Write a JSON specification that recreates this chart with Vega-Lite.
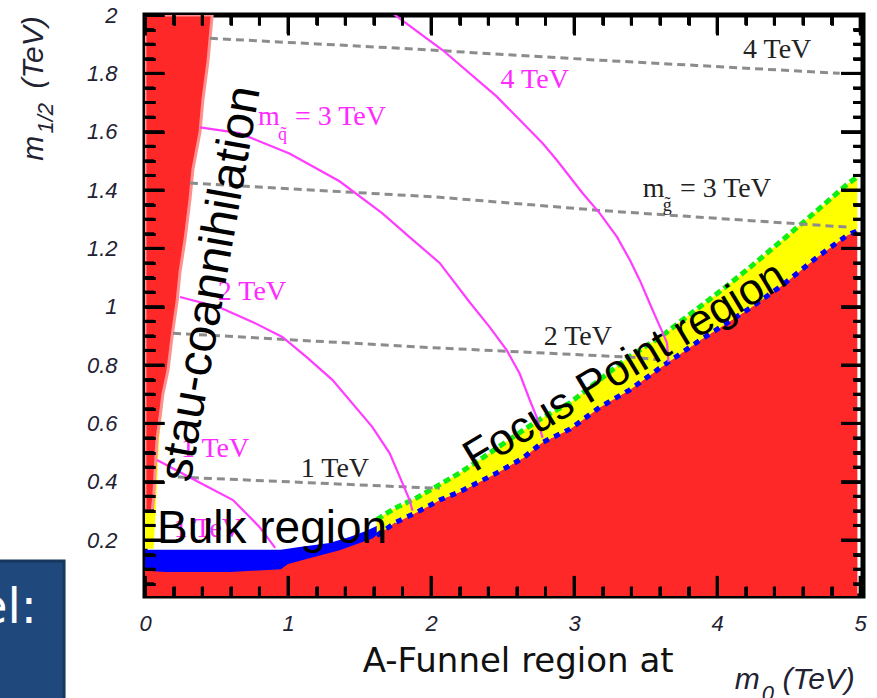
{
"$schema": "https://vega.github.io/schema/vega-lite/v6.json",
"width": 718, "height": 581,
"autosize": {"type": "none"},
"padding": {"left": 145, "top": 15, "right": 14, "bottom": 102},
"background": "white",
"config": {"view": {"stroke": "black", "strokeWidth": 5}},
"resolve": {"axis": {"x": "independent", "y": "independent"}},
"datasets": {
"bulk": [{"x":0,"y":0.167},{"x":0.95,"y":0.167},{"x":1.08,"y":0.176},{"x":1.29,"y":0.19},{"x":1.43,"y":0.21},{"x":1.54,"y":0.23},{"x":1.65,"y":0.255},{"x":1.75,"y":0.28}],
"redlow": [{"x":0,"y":0.095},{"x":0.15,"y":0.09},{"x":0.6,"y":0.09},{"x":0.95,"y":0.1},{"x":1.0,"y":0.118},{"x":1.13,"y":0.135},{"x":1.36,"y":0.165},{"x":1.59,"y":0.205},{"x":1.68,"y":0.24},{"x":1.78,"y":0.265},{"x":1.92,"y":0.3},{"x":2.06,"y":0.337},{"x":2.2,"y":0.365},{"x":2.34,"y":0.4},{"x":2.46,"y":0.43},{"x":2.64,"y":0.48},{"x":2.78,"y":0.535},{"x":2.97,"y":0.58},{"x":3.18,"y":0.655},{"x":3.39,"y":0.715},{"x":3.6,"y":0.79},{"x":3.88,"y":0.885},{"x":4.04,"y":0.935},{"x":4.23,"y":0.995},{"x":4.46,"y":1.075},{"x":4.7,"y":1.17},{"x":4.91,"y":1.245},{"x":4.98,"y":1.26},{"x":4.981,"y":0}],
"band": [{"x":1.62,"lo":0.215,"hi":0.27},{"x":1.75,"lo":0.26,"hi":0.31},{"x":1.9,"lo":0.295,"hi":0.345},{"x":2.06,"lo":0.337,"hi":0.39},{"x":2.2,"lo":0.365,"hi":0.43},{"x":2.34,"lo":0.4,"hi":0.475},{"x":2.46,"lo":0.43,"hi":0.515},{"x":2.64,"lo":0.48,"hi":0.575},{"x":2.78,"lo":0.535,"hi":0.62},{"x":2.97,"lo":0.58,"hi":0.67},{"x":3.18,"lo":0.655,"hi":0.75},{"x":3.39,"lo":0.715,"hi":0.83},{"x":3.6,"lo":0.79,"hi":0.895},{"x":3.88,"lo":0.885,"hi":1.0},{"x":4.04,"lo":0.935,"hi":1.06},{"x":4.23,"lo":0.995,"hi":1.135},{"x":4.46,"lo":1.075,"hi":1.23},{"x":4.7,"lo":1.17,"hi":1.33},{"x":4.91,"lo":1.245,"hi":1.42},{"x":4.98,"lo":1.26,"hi":1.445}],
"leftyellow": [{"y":0.17,"x":0.06},{"y":0.3,"x":0.075},{"y":0.45,"x":0.09},{"y":0.55,"x":0.1},{"y":0.62,"x":0.115},{"y":0.7,"x":0.13}],
"leftred": [{"y":0.3,"x":0.05},{"y":0.35,"x":0.062},{"y":0.45,"x":0.072},{"y":0.55,"x":0.085},{"y":0.62,"x":0.105},{"y":0.7,"x":0.125},{"y":0.78,"x":0.16},{"y":0.9,"x":0.19},{"y":1.02,"x":0.225},{"y":1.12,"x":0.245},{"y":1.23,"x":0.28},{"y":1.37,"x":0.315},{"y":1.47,"x":0.335},{"y":1.6,"x":0.385},{"y":1.71,"x":0.405},{"y":1.84,"x":0.44},{"y":2.0,"x":0.47}],
"sq": [
{"c":"4","x":1.72,"y":2.01},{"c":"4","x":2.08,"y":1.88},{"c":"4","x":2.46,"y":1.72},{"c":"4","x":2.78,"y":1.56},{"c":"4","x":2.88,"y":1.502},{"c":"4","x":3.06,"y":1.389},{"c":"4","x":3.18,"y":1.32},{"c":"4","x":3.3,"y":1.239},{"c":"4","x":3.39,"y":1.16},{"c":"4","x":3.46,"y":1.09},{"c":"4","x":3.53,"y":1.01},{"c":"4","x":3.58,"y":0.954},{"c":"4","x":3.62,"y":0.91},{"c":"4","x":3.65,"y":0.875},{"c":"4","x":3.66,"y":0.81},
{"c":"3","x":0.385,"y":1.615},{"c":"3","x":0.66,"y":1.595},{"c":"3","x":1.01,"y":1.525},{"c":"3","x":1.36,"y":1.43},{"c":"3","x":1.66,"y":1.32},{"c":"3","x":1.87,"y":1.23},{"c":"3","x":2.06,"y":1.15},{"c":"3","x":2.27,"y":1.015},{"c":"3","x":2.41,"y":0.93},{"c":"3","x":2.53,"y":0.85},{"c":"3","x":2.62,"y":0.77},{"c":"3","x":2.69,"y":0.68},{"c":"3","x":2.74,"y":0.62},{"c":"3","x":2.78,"y":0.55},
{"c":"2","x":0.245,"y":1.033},{"c":"2","x":0.52,"y":0.998},{"c":"2","x":0.755,"y":0.947},{"c":"2","x":0.96,"y":0.896},{"c":"2","x":1.13,"y":0.827},{"c":"2","x":1.31,"y":0.749},{"c":"2","x":1.59,"y":0.587},{"c":"2","x":1.71,"y":0.498},{"c":"2","x":1.8,"y":0.395},{"c":"2","x":1.85,"y":0.337},{"c":"2","x":1.87,"y":0.3},
{"c":"1","x":0.084,"y":0.474},{"c":"1","x":0.384,"y":0.396},{"c":"1","x":0.615,"y":0.337},{"c":"1","x":0.8,"y":0.245},{"c":"1","x":0.91,"y":0.173}],
"gl": [
{"c":"4","x":0.454,"y":1.92},{"c":"4","x":1.782,"y":1.886},{"c":"4","x":3.18,"y":1.845},{"c":"4","x":3.857,"y":1.827},{"c":"4","x":4.857,"y":1.8},
{"c":"3","x":0.314,"y":1.424},{"c":"3","x":2.061,"y":1.375},{"c":"3","x":3.18,"y":1.33},{"c":"3","x":4.93,"y":1.272},
{"c":"2","x":0.196,"y":0.909},{"c":"2","x":2.061,"y":0.858},{"c":"2","x":3.389,"y":0.827},{"c":"2","x":3.6,"y":0.818},
{"c":"1","x":0.23,"y":0.416},{"c":"1","x":2.01,"y":0.378},{"c":"1","x":2.06,"y":0.377}],
"xmaj": [{"v":0},{"v":1},{"v":2},{"v":3},{"v":4},{"v":5}],
"xmin": [{"v":0.2},{"v":0.4},{"v":0.6},{"v":0.8},{"v":1.2},{"v":1.4},{"v":1.6},{"v":1.8},{"v":2.2},{"v":2.4},{"v":2.6},{"v":2.8},{"v":3.2},{"v":3.4},{"v":3.6},{"v":3.8},{"v":4.2},{"v":4.4},{"v":4.6},{"v":4.8}],
"ymaj": [{"v":0.2},{"v":0.4},{"v":0.6},{"v":0.8},{"v":1.0},{"v":1.2},{"v":1.4},{"v":1.6},{"v":1.8},{"v":2.0}],
"ymin": [{"v":0.05},{"v":0.1},{"v":0.15},{"v":0.25},{"v":0.3},{"v":0.35},{"v":0.45},{"v":0.5},{"v":0.55},{"v":0.65},{"v":0.7},{"v":0.75},{"v":0.85},{"v":0.9},{"v":0.95},{"v":1.05},{"v":1.1},{"v":1.15},{"v":1.25},{"v":1.3},{"v":1.35},{"v":1.45},{"v":1.5},{"v":1.55},{"v":1.65},{"v":1.7},{"v":1.75},{"v":1.85},{"v":1.9},{"v":1.95}],
"sqlabc": [{"x":2.725,"y":1.749,"t":"4 TeV"},{"x":0.748,"y":1.022,"t":"2 TeV"},{"x":0.49,"y":0.485,"t":"1 TeV"},{"x":0.44,"y":0.21,"t":"1 TeV"}],
"sqlabl": [{"x":0.79,"y":1.622,"t":"m"},{"x":1.048,"y":1.622,"t":"= 3 TeV"}],
"sqsub": [{"x":0.93,"y":1.571,"t":"q̃"}],
"gllabc": [{"x":4.42,"y":1.851,"t":"4 TeV"},{"x":3.026,"y":0.868,"t":"2 TeV"},{"x":1.328,"y":0.416,"t":"1 TeV"}],
"gllabl": [{"x":3.48,"y":1.375,"t":"m"},{"x":3.74,"y":1.375,"t":"= 3 TeV"}],
"glsub": [{"x":3.62,"y":1.328,"t":"g̃"}],
"stau": [{"x":0.56,"y":1.07,"t":"stau-coannihilation"}],
"bulkt": [{"x":0.084,"y":0.19,"t":"Bulk region"}],
"focus": [{"x":3.403,"y":0.755,"t":"Focus Point region"}],
"ytitle": [{"x":-0.713,"y":1.543,"t":"m"},{"x":-0.713,"y":1.872,"t":"(TeV)"}],
"ysub": [{"x":-0.643,"y":1.646,"t":"1/2"}],
"xtitle": [{"x":4.123,"y":-0.31,"t":"m"},{"x":4.458,"y":-0.31,"t":"(TeV)"}],
"xsub": [{"x":4.312,"y":-0.352,"t":"0"}],
"box": [{"x":-1.2,"x2":-0.566,"y":-0.5,"y2":0.128}],
"boxt": [{"x":-0.755,"y":-0.084,"t":"Model:"}],
"funnel": [{"x":1.523,"y":-0.252,"t":"A-Funnel region at"},{"x":1.53,"y":-0.43,"t":"large tan β"}]
},
"layer": [
{"data": {"name": "bulk"}, "mark": {"type": "area", "color": "#0000ff", "clip": true},
 "encoding": {
  "x": {"field": "x", "type": "quantitative", "scale": {"domain": [0, 5.02], "nice": false, "zero": false},
    "axis": {"orient": "bottom", "title": null, "values": [0,1,2,3,4,5], "format": "d", "offset": -20,
      "domain": false, "ticks": true, "tickSize": 20, "tickWidth": 3, "tickColor": "black",
      "grid": true, "gridColor": "black", "gridWidth": 3, "gridOpacity": 1, "gridDash": [20, 542, 19, 5000],
      "labelFont": "Liberation Sans", "labelFontStyle": "italic", "labelFontSize": 22, "labelColor": "#222233",
      "labelPadding": 17, "labelBaseline": "top", "labelFlush": false, "labelOverlap": false, "zindex": 1}},
  "y": {"field": "y", "type": "quantitative", "scale": {"domain": [0.008, 2.0], "nice": false, "zero": false},
    "axis": {"orient": "left", "title": null, "values": [0.2,0.4,0.6,0.8,1,1.2,1.4,1.6,1.8,2], "format": "~g", "offset": -19,
      "domain": false, "ticks": true, "tickSize": 19, "tickWidth": 3, "tickColor": "black",
      "grid": true, "gridColor": "black", "gridWidth": 3, "gridOpacity": 1, "gridDash": [19, 677, 22, 5000],
      "labelFont": "Liberation Sans", "labelFontStyle": "italic", "labelFontSize": 22, "labelColor": "#222233",
      "labelPadding": 28, "labelFlush": false, "labelOverlap": false, "zindex": 1}},
  "y2": {"datum": 0}}},
{"data": {"name": "redlow"}, "mark": {"type": "area", "color": "#ff2828", "clip": true},
 "encoding": {
  "x": {"field": "x", "type": "quantitative", "scale": {"domain": [0, 5.02], "nice": false, "zero": false},
    "axis": {"orient": "top", "title": null, "labels": false, "values": [0,1,2,3,4,5], "offset": -19, "grid": false,
      "domain": false, "ticks": true, "tickSize": 19, "tickWidth": 3, "tickColor": "black", "zindex": 1}},
  "y": {"field": "y", "type": "quantitative", "scale": {"domain": [0.008, 2.0], "nice": false, "zero": false},
    "axis": {"orient": "right", "title": null, "labels": false, "values": [0.2,0.4,0.6,0.8,1,1.2,1.4,1.6,1.8,2], "offset": -22, "grid": false,
      "domain": false, "ticks": true, "tickSize": 22, "tickWidth": 3, "tickColor": "black", "zindex": 1}},
  "y2": {"datum": 0}}},
{"data": {"name": "band"}, "mark": {"type": "area", "color": "#ffff00", "clip": true},
 "encoding": {"x": {"field": "x", "type": "quantitative", "scale": {"domain": [0, 5.02], "nice": false, "zero": false},
    "axis": {"orient": "top", "title": null, "labels": false, "values": [0.2,0.4,0.6,0.8,1.2,1.4,1.6,1.8,2.2,2.4,2.6,2.8,3.2,3.4,3.6,3.8,4.2,4.4,4.6,4.8], "offset": -10,
      "domain": false, "ticks": true, "tickSize": 10, "tickWidth": 3, "tickColor": "black",
      "grid": true, "gridColor": "black", "gridWidth": 3, "gridOpacity": 1, "gridDash": [9, 562, 10, 5000], "zindex": 1}},
  "y": {"field": "hi", "type": "quantitative", "scale": {"domain": [0.008, 2.0], "nice": false, "zero": false},
    "axis": {"orient": "right", "title": null, "labels": false, "values": [0.05,0.1,0.15,0.25,0.3,0.35,0.45,0.5,0.55,0.65,0.7,0.75,0.85,0.9,0.95,1.05,1.1,1.15,1.25,1.3,1.35,1.45,1.5,1.55,1.65,1.7,1.75,1.85,1.9,1.95], "offset": -10,
      "domain": false, "ticks": true, "tickSize": 10, "tickWidth": 3, "tickColor": "black",
      "grid": true, "gridColor": "black", "gridWidth": 3, "gridOpacity": 1, "gridDash": [9, 699, 10, 5000], "zindex": 1}},
  "y2": {"field": "lo"}}},
{"data": {"name": "band"}, "mark": {"type": "line", "color": "#11ee11", "strokeWidth": 5, "strokeDash": [7, 4], "clip": true},
 "encoding": {"x": {"field": "x", "type": "quantitative",
    "axis": {"orient": "bottom", "title": null, "labels": false, "values": [0.2,0.4,0.6,0.8,1.2,1.4,1.6,1.8,2.2,2.4,2.6,2.8,3.2,3.4,3.6,3.8,4.2,4.4,4.6,4.8], "offset": -10, "grid": false,
      "domain": false, "ticks": true, "tickSize": 10, "tickWidth": 3, "tickColor": "black", "zindex": 1}},
  "y": {"field": "hi", "type": "quantitative",
    "axis": {"orient": "left", "title": null, "labels": false, "values": [0.05,0.1,0.15,0.25,0.3,0.35,0.45,0.5,0.55,0.65,0.7,0.75,0.85,0.9,0.95,1.05,1.1,1.15,1.25,1.3,1.35,1.45,1.5,1.55,1.65,1.7,1.75,1.85,1.9,1.95], "offset": -10, "grid": false,
      "domain": false, "ticks": true, "tickSize": 10, "tickWidth": 3, "tickColor": "black", "zindex": 1}}}},
{"data": {"name": "band"}, "mark": {"type": "line", "color": "#0000ff", "strokeWidth": 5, "strokeDash": [6, 6], "clip": true},
 "encoding": {"x": {"field": "x", "type": "quantitative", "axis": null}, "y": {"field": "lo", "type": "quantitative", "axis": null}}},
{"data": {"name": "leftyellow"}, "mark": {"type": "area", "orient": "horizontal", "color": "#ffff00", "clip": true},
 "encoding": {"y": {"field": "y", "type": "quantitative", "axis": null}, "x": {"field": "x", "type": "quantitative", "axis": null}, "x2": {"datum": 0}}},
{"data": {"name": "leftred"}, "mark": {"type": "area", "orient": "horizontal", "color": "#ff2828", "stroke": "#ff9090", "strokeWidth": 3, "clip": true},
 "encoding": {"y": {"field": "y", "type": "quantitative", "axis": null}, "x": {"field": "x", "type": "quantitative", "axis": null}, "x2": {"datum": 0}}},
{"data": {"name": "gl"}, "mark": {"type": "line", "color": "#8c8c8c", "strokeWidth": 3, "strokeDash": [8, 5], "clip": true},
 "encoding": {"x": {"field": "x", "type": "quantitative", "axis": null}, "y": {"field": "y", "type": "quantitative", "axis": null}, "detail": {"field": "c"}}},
{"data": {"name": "sq"}, "mark": {"type": "line", "color": "#ff3cff", "strokeWidth": 2.2, "clip": true},
 "encoding": {"x": {"field": "x", "type": "quantitative", "axis": null}, "y": {"field": "y", "type": "quantitative", "axis": null}, "detail": {"field": "c"}}},
{"data": {"name": "xmaj"}, "mark": {"type": "rule", "color": "black", "strokeWidth": 3},
 "encoding": {"x": {"field": "v", "type": "quantitative", "axis": null}, "y": {"datum": 0.008, "axis": {"labels": false, "ticks": false, "domain": false, "grid": false, "title": null}}, "y2": {"datum": 0.077}}},
{"data": {"name": "xmin"}, "mark": {"type": "rule", "color": "black", "strokeWidth": 3},
 "encoding": {"x": {"field": "v", "type": "quantitative", "axis": null}, "y": {"datum": 0.008, "axis": {"labels": false, "ticks": false, "domain": false, "grid": false, "title": null}}, "y2": {"datum": 0.039}}},
{"data": {"name": "xmaj"}, "mark": {"type": "rule", "color": "black", "strokeWidth": 3},
 "encoding": {"x": {"field": "v", "type": "quantitative", "axis": null}, "y": {"datum": 2.0, "axis": {"labels": false, "ticks": false, "domain": false, "grid": false, "title": null}}, "y2": {"datum": 1.935}}},
{"data": {"name": "xmin"}, "mark": {"type": "rule", "color": "black", "strokeWidth": 3},
 "encoding": {"x": {"field": "v", "type": "quantitative", "axis": null}, "y": {"datum": 2.0, "axis": {"labels": false, "ticks": false, "domain": false, "grid": false, "title": null}}, "y2": {"datum": 1.966}}},
{"data": {"name": "ymaj"}, "mark": {"type": "rule", "color": "black", "strokeWidth": 3},
 "encoding": {"y": {"field": "v", "type": "quantitative", "axis": null}, "x": {"datum": 0, "axis": {"labels": false, "ticks": false, "domain": false, "grid": false, "title": null}}, "x2": {"datum": 0.133}}},
{"data": {"name": "ymin"}, "mark": {"type": "rule", "color": "black", "strokeWidth": 3},
 "encoding": {"y": {"field": "v", "type": "quantitative", "axis": null}, "x": {"datum": 0, "axis": {"labels": false, "ticks": false, "domain": false, "grid": false, "title": null}}, "x2": {"datum": 0.063}}},
{"data": {"name": "ymaj"}, "mark": {"type": "rule", "color": "black", "strokeWidth": 3},
 "encoding": {"y": {"field": "v", "type": "quantitative", "axis": null}, "x": {"datum": 5.02, "axis": {"labels": false, "ticks": false, "domain": false, "grid": false, "title": null}}, "x2": {"datum": 4.866}}},
{"data": {"name": "ymin"}, "mark": {"type": "rule", "color": "black", "strokeWidth": 3},
 "encoding": {"y": {"field": "v", "type": "quantitative", "axis": null}, "x": {"datum": 5.02, "axis": {"labels": false, "ticks": false, "domain": false, "grid": false, "title": null}}, "x2": {"datum": 4.95}}},
{"data": {"name": "sqlabc"}, "mark": {"type": "text", "font": "Liberation Serif", "fontSize": 28, "color": "#ff2aff", "align": "center", "baseline": "alphabetic"},
 "encoding": {"x": {"field": "x", "type": "quantitative", "axis": null}, "y": {"field": "y", "type": "quantitative", "axis": null}, "text": {"field": "t"}}},
{"data": {"name": "sqlabl"}, "mark": {"type": "text", "font": "Liberation Serif", "fontSize": 28, "color": "#ff2aff", "align": "left", "baseline": "alphabetic"},
 "encoding": {"x": {"field": "x", "type": "quantitative", "axis": null}, "y": {"field": "y", "type": "quantitative", "axis": null}, "text": {"field": "t"}}},
{"data": {"name": "sqsub"}, "mark": {"type": "text", "font": "Liberation Serif", "fontSize": 18, "color": "#ff2aff", "align": "left", "baseline": "alphabetic"},
 "encoding": {"x": {"field": "x", "type": "quantitative", "axis": null}, "y": {"field": "y", "type": "quantitative", "axis": null}, "text": {"field": "t"}}},
{"data": {"name": "gllabc"}, "mark": {"type": "text", "font": "Liberation Serif", "fontSize": 28, "color": "#222222", "align": "center", "baseline": "alphabetic"},
 "encoding": {"x": {"field": "x", "type": "quantitative", "axis": null}, "y": {"field": "y", "type": "quantitative", "axis": null}, "text": {"field": "t"}}},
{"data": {"name": "gllabl"}, "mark": {"type": "text", "font": "Liberation Serif", "fontSize": 28, "color": "#222222", "align": "left", "baseline": "alphabetic"},
 "encoding": {"x": {"field": "x", "type": "quantitative", "axis": null}, "y": {"field": "y", "type": "quantitative", "axis": null}, "text": {"field": "t"}}},
{"data": {"name": "glsub"}, "mark": {"type": "text", "font": "Liberation Serif", "fontSize": 18, "color": "#222222", "align": "left", "baseline": "alphabetic"},
 "encoding": {"x": {"field": "x", "type": "quantitative", "axis": null}, "y": {"field": "y", "type": "quantitative", "axis": null}, "text": {"field": "t"}}},
{"data": {"name": "stau"}, "mark": {"type": "text", "font": "Liberation Sans", "fontSize": 48, "color": "black", "align": "center", "baseline": "alphabetic", "angle": 280},
 "encoding": {"x": {"field": "x", "type": "quantitative", "axis": null}, "y": {"field": "y", "type": "quantitative", "axis": null}, "text": {"field": "t"}}},
{"data": {"name": "bulkt"}, "mark": {"type": "text", "font": "Liberation Sans", "fontSize": 46, "color": "black", "align": "left", "baseline": "alphabetic"},
 "encoding": {"x": {"field": "x", "type": "quantitative", "axis": null}, "y": {"field": "y", "type": "quantitative", "axis": null}, "text": {"field": "t"}}},
{"data": {"name": "focus"}, "mark": {"type": "text", "font": "Liberation Sans", "fontSize": 44, "color": "black", "align": "center", "baseline": "alphabetic", "angle": 329},
 "encoding": {"x": {"field": "x", "type": "quantitative", "axis": null}, "y": {"field": "y", "type": "quantitative", "axis": null}, "text": {"field": "t"}}},
{"data": {"name": "ytitle"}, "mark": {"type": "text", "font": "Liberation Sans", "fontStyle": "italic", "fontSize": 30, "color": "#222233", "align": "center", "baseline": "alphabetic", "angle": 270},
 "encoding": {"x": {"field": "x", "type": "quantitative", "axis": null}, "y": {"field": "y", "type": "quantitative", "axis": null}, "text": {"field": "t"}}},
{"data": {"name": "ysub"}, "mark": {"type": "text", "font": "Liberation Sans", "fontStyle": "italic", "fontSize": 22, "color": "#222233", "align": "center", "baseline": "alphabetic", "angle": 270},
 "encoding": {"x": {"field": "x", "type": "quantitative", "axis": null}, "y": {"field": "y", "type": "quantitative", "axis": null}, "text": {"field": "t"}}},
{"data": {"name": "xtitle"}, "mark": {"type": "text", "font": "Liberation Sans", "fontStyle": "italic", "fontSize": 30, "color": "#222233", "align": "left", "baseline": "alphabetic"},
 "encoding": {"x": {"field": "x", "type": "quantitative", "axis": null}, "y": {"field": "y", "type": "quantitative", "axis": null}, "text": {"field": "t"}}},
{"data": {"name": "xsub"}, "mark": {"type": "text", "font": "Liberation Sans", "fontStyle": "italic", "fontSize": 22, "color": "#222233", "align": "left", "baseline": "alphabetic"},
 "encoding": {"x": {"field": "x", "type": "quantitative", "axis": null}, "y": {"field": "y", "type": "quantitative", "axis": null}, "text": {"field": "t"}}},
{"data": {"name": "box"}, "mark": {"type": "rect", "color": "#1f497d", "stroke": "#17375e", "strokeWidth": 3},
 "encoding": {"x": {"field": "x", "type": "quantitative", "axis": null}, "x2": {"field": "x2"}, "y": {"field": "y", "type": "quantitative", "axis": null}, "y2": {"field": "y2"}}},
{"data": {"name": "boxt"}, "mark": {"type": "text", "font": "DejaVu Sans", "fontSize": 48, "color": "white", "align": "right", "baseline": "alphabetic"},
 "encoding": {"x": {"field": "x", "type": "quantitative", "axis": null}, "y": {"field": "y", "type": "quantitative", "axis": null}, "text": {"field": "t"}}},
{"data": {"name": "funnel"}, "mark": {"type": "text", "font": "DejaVu Sans", "fontSize": 34, "color": "#111111", "align": "left", "baseline": "alphabetic"},
 "encoding": {"x": {"field": "x", "type": "quantitative", "axis": null}, "y": {"field": "y", "type": "quantitative", "axis": null}, "text": {"field": "t"}}}
]
}
